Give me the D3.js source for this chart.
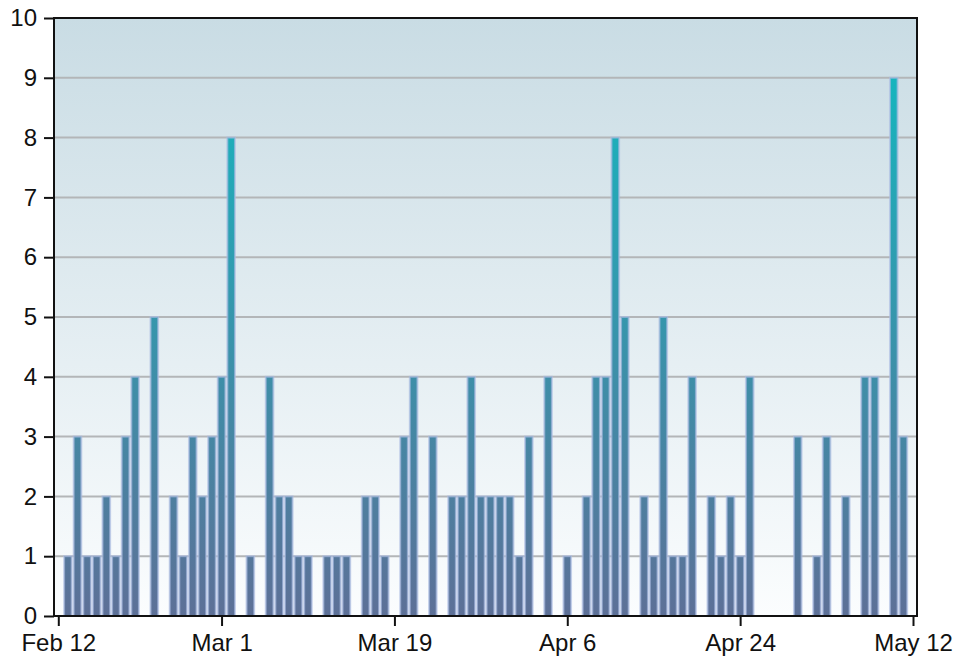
<!DOCTYPE html>
<html>
<head>
<meta charset="utf-8">
<script src="https://cdn.jsdelivr.net/npm/d3@7"></script>
<style>
  body { margin: 0; background: #fff; }
  svg text { font-family: "Liberation Sans", Arial, sans-serif; font-size: 24px; fill: #111; }
</style>
</head>
<body>
<div id="chart"></div>
<script>
// daily counts, first bar is Feb 13
const startDate = '2007-02-13';
const counts = [
  1, 3, 1, 1, 2, 1, 3, 4, 0, 5, 0, 2, 1, 3, 2, 3, 4, 8, 0, 1,
  0, 4, 2, 2, 1, 1, 0, 1, 1, 1, 0, 2, 2, 1, 0, 3, 4, 0, 3, 0,
  2, 2, 4, 2, 2, 2, 2, 1, 3, 0, 4, 0, 1, 0, 2, 4, 4, 8, 5, 0,
  2, 1, 5, 1, 1, 4, 0, 2, 1, 2, 1, 4, 0, 0, 0, 0, 3, 0, 1, 3,
  0, 2, 0, 4, 4, 0, 9, 3
];
const tickDates = ['2007-02-12', '2007-03-01', '2007-03-19', '2007-04-06', '2007-04-24', '2007-05-12'];
const yTicks = [0, 1, 2, 3, 4, 5, 6, 7, 8, 9, 10];

const parse = d3.timeParse('%Y-%m-%d');
const fmt = d3.timeFormat('%b %-d');
const start = parse(startDate);
const data = counts.map((v, i) => ({ date: d3.timeDay.offset(start, i), value: v }));

const width = 958, height = 661;
const box = { left: 54, right: 917, top: 18, bottom: 616 };

const svg = d3.select('#chart').append('svg')
    .attr('width', width)
    .attr('height', height);

const x = d3.scaleTime()
    .domain([parse(tickDates[0]), parse(tickDates[tickDates.length - 1])])
    .range([58.3, 913]);

const y = d3.scaleLinear()
    .domain([0, 10])
    .range([box.bottom, box.top]);

const defs = svg.append('defs');

const bg = defs.append('linearGradient')
    .attr('id', 'bg-grad')
    .attr('x1', 0).attr('y1', 0).attr('x2', 0).attr('y2', 1);
bg.append('stop').attr('offset', '0%').attr('stop-color', '#c9dce4');
bg.append('stop').attr('offset', '100%').attr('stop-color', '#fbfdfe');

const barGrad = defs.append('linearGradient')
    .attr('id', 'bar-grad')
    .attr('gradientUnits', 'userSpaceOnUse')
    .attr('x1', 0).attr('y1', box.top).attr('x2', 0).attr('y2', box.bottom);
barGrad.append('stop').attr('offset', '0%').attr('stop-color', '#0fbcc2');
barGrad.append('stop').attr('offset', '100%').attr('stop-color', '#5d7097');

svg.append('rect')
    .attr('x', box.left)
    .attr('y', box.top)
    .attr('width', box.right - box.left)
    .attr('height', box.bottom - box.top)
    .attr('fill', 'url(#bg-grad)');

// grid lines
svg.append('g')
    .selectAll('line')
    .data(yTicks.filter(t => t > 0 && t < 10))
    .join('line')
    .attr('x1', box.left)
    .attr('x2', box.right)
    .attr('y1', d => y(d))
    .attr('y2', d => y(d))
    .attr('stroke', '#b3b6b8')
    .attr('stroke-width', 2);

// bars
const step = x(d3.timeDay.offset(start, 1)) - x(start);
svg.append('g')
    .selectAll('rect')
    .data(data.filter(d => d.value > 0))
    .join('rect')
    .attr('x', d => x(d.date) - step / 2 + 1)
    .attr('width', step - 2)
    .attr('y', d => y(d.value))
    .attr('height', d => y(0) - y(d.value))
    .attr('fill', 'url(#bar-grad)')
    .attr('stroke', '#aabbe2')
    .attr('stroke-opacity', 0.65)
    .attr('stroke-width', 2);

// frame
svg.append('rect')
    .attr('x', box.left)
    .attr('y', box.top)
    .attr('width', box.right - box.left)
    .attr('height', box.bottom - box.top)
    .attr('fill', 'none')
    .attr('stroke', '#111')
    .attr('stroke-width', 2);

const yAxis = d3.axisLeft(y)
    .tickValues(yTicks)
    .tickSize(10)
    .tickPadding(7)
    .tickFormat(d3.format('d'));

svg.append('g')
    .attr('transform', `translate(${box.left},0)`)
    .call(yAxis)
    .call(g => g.select('.domain').remove())
    .call(g => g.selectAll('line').attr('stroke', '#111').attr('stroke-width', 2))
    .call(g => g.selectAll('text').attr('font-size', 24).attr('font-family', 'Liberation Sans, Arial, sans-serif').attr('fill', '#111'));

const xAxis = d3.axisBottom(x)
    .tickValues(tickDates.map(parse))
    .tickSize(10)
    .tickPadding(8)
    .tickFormat(fmt);

svg.append('g')
    .attr('transform', `translate(0,${box.bottom})`)
    .call(xAxis)
    .call(g => g.select('.domain').remove())
    .call(g => g.selectAll('line').attr('stroke', '#111').attr('stroke-width', 2))
    .call(g => g.selectAll('text').attr('font-size', 24).attr('font-family', 'Liberation Sans, Arial, sans-serif').attr('fill', '#111'));
</script>
</body>
</html>
